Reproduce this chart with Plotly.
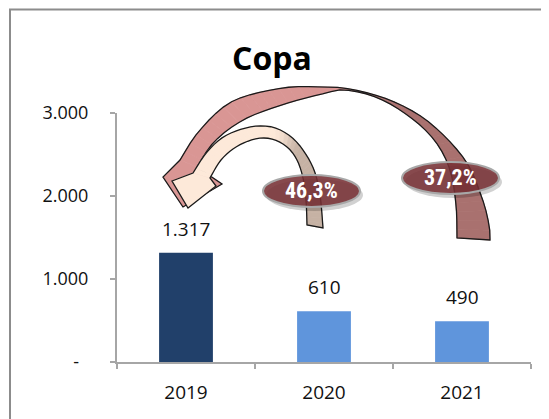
import numpy as np
import plotly.graph_objects as go

# ---------------- data ----------------
years = ["2019", "2020", "2021"]
values = [1317, 610, 490]
value_labels = ["1.317", "610", "490"]
bar_colors = ["#21406A", "#5F95DC", "#5F95DC"]
changes = ["46,3%", "37,2%"]
y_tickvals = [0, 1000, 2000, 3000]
y_ticktext = ["-\u00a0\u00a0", "1.000", "2.000", "3.000"]
title_text = "Copa"

# ---------------- geometry helpers (reference pixel -> paper) ----------------
OFF = 8                     # page body margin of the html page
W, H = 549 - OFF, 419 - OFF
L, T = 117 - OFF, 113 - OFF
PW, PH = 414, 249
R = W - L - PW
B = H - T - PH


def px(x):
    return (x - OFF - L) / PW


def py(y):
    return (T + PH - (y - OFF)) / PH


def catmull(pts, n=14):
    pts = np.asarray(pts, float)
    P = np.vstack([pts[0], pts, pts[-1]])
    out = []
    for i in range(1, len(P) - 2):
        p0, p1, p2, p3 = P[i - 1], P[i], P[i + 1], P[i + 2]
        for t in np.linspace(0, 1, n, endpoint=False):
            t2, t3 = t * t, t * t * t
            out.append(0.5 * ((2 * p1) + (-p0 + p2) * t
                              + (2 * p0 - 5 * p1 + 4 * p2 - p3) * t2
                              + (-p0 + 3 * p1 - 3 * p2 + p3) * t3))
    out.append(P[-2])
    return np.array(out)


def resample(curve, n):
    d = np.r_[0, np.cumsum(np.hypot(*np.diff(curve, axis=0).T))]
    s = np.linspace(0, d[-1], n)
    return np.c_[np.interp(s, d, curve[:, 0]), np.interp(s, d, curve[:, 1])]


def path_of(points, close=True):
    s = "M " + " L ".join(f"{px(x):.5f},{py(y):.5f}" for x, y in points)
    return s + (" Z" if close else "")


def hex2rgb(h):
    h = h.lstrip("#")
    return np.array([int(h[i:i + 2], 16) for i in (0, 2, 4)], float)


def lerp_color(c1, c2, f):
    c = hex2rgb(c1) * (1 - f) + hex2rgb(c2) * f
    return "rgb(%d,%d,%d)" % tuple(np.round(c))


def ribbon_shapes(outer, inner, head, c_left, c_right, f0, f1, n=44):
    o = resample(catmull(outer), n)
    i_ = resample(catmull(inner), n)
    shapes = []
    shapes.append(dict(type="path", xref="paper", yref="paper",
                       path=path_of(head), fillcolor=c_left,
                       line=dict(color=c_left, width=0.5), layer="above"))
    for k in range(n - 1):
        f = k / (n - 2)
        g = np.clip((f - f0) / (f1 - f0), 0, 1)
        g = g * g * (3 - 2 * g)
        col = lerp_color(c_left, c_right, g)
        quad = [o[k], o[k + 1], i_[k + 1], i_[k]]
        shapes.append(dict(type="path", xref="paper", yref="paper",
                           path=path_of(quad), fillcolor=col,
                           line=dict(color=col, width=0.8), layer="above"))
    outline = list(o[::-1]) + list(head[1:4]) + list(i_)
    shapes.append(dict(type="path", xref="paper", yref="paper",
                       path=path_of(outline), fillcolor="rgba(0,0,0,0)",
                       line=dict(color="#1a1a1a", width=1.3), layer="above"))
    return shapes


# decorative arrows (reference pixel-space outlines)
big_outer = [(180, 160), (200, 130), (233, 101), (283, 88), (320, 87), (350, 89),
             (392, 101), (430, 123), (465, 160), (482, 198), (489, 225), (490, 240)]
big_inner = [(197, 167), (215, 141), (245, 119), (285, 104), (322, 94), (345, 90),
             (378, 98), (410, 117), (435, 141), (450, 170), (456, 205), (457, 238)]
big_head = [(180, 160), (163, 177), (183, 207), (222, 184), (197, 167)]

small_outer = [(193, 173), (207, 152), (225, 136), (250, 127), (272, 127), (290, 136),
               (303, 150), (314, 170), (320, 195), (323, 228)]
small_inner = [(210, 178), (221, 160), (236, 147), (255, 139), (272, 139), (287, 147),
               (297, 160), (303, 178), (306, 200), (307, 225)]
small_head = [(193, 173), (172, 181), (188, 208), (216, 186), (210, 178)]

shapes = []
shapes.append(dict(type="path", xref="paper", yref="paper",
                   path=path_of([(10, 430), (10, 9.5), (560, 9.5)], close=False),
                   line=dict(color="#8C8C8C", width=2), layer="above"))
shapes += ribbon_shapes(big_outer, big_inner, big_head, "#D99694", "#A9716F", 0.42, 0.62)
shapes += ribbon_shapes(small_outer, small_inner, small_head, "#FDE9D9", "#C6B2A4", 0.45, 0.62)

ellipses = [(263, 175, 360, 207), (402, 162, 499, 194)]
for (x0, y0, x1, y1) in ellipses:
    shapes.append(dict(type="circle", xref="paper", yref="paper",
                       x0=px(x0 + 3), x1=px(x1 + 3), y0=py(y1 + 4), y1=py(y0 + 4),
                       fillcolor="rgba(0,0,0,0.18)", line=dict(width=0), layer="above"))
    shapes.append(dict(type="circle", xref="paper", yref="paper",
                       x0=px(x0), x1=px(x1), y0=py(y1), y1=py(y0),
                       fillcolor="rgba(118,48,52,0.88)",
                       line=dict(color="#A8A8A8", width=2), layer="above"))

annotations = []
for (x0, y0, x1, y1), txt in zip(ellipses, changes):
    annotations.append(dict(xref="paper", yref="paper", x=px((x0 + x1) / 2),
                            y=py((y0 + y1) / 2 - 1), text=f"<b>{txt}</b>", showarrow=False,
                            font=dict(family="Liberation Sans Narrow, Roboto Condensed, Liberation Sans",
                                      size=22, color="white"),
                            xanchor="center", yanchor="middle"))

for idx, (v, lab) in enumerate(zip(values, value_labels)):
    annotations.append(dict(x=idx, y=v, xref="x", yref="y", text=lab, showarrow=False,
                            yshift=24, font=dict(family="Open Sans", size=19, color="#111"),
                            xanchor="center", yanchor="middle"))

annotations.append(dict(xref="paper", yref="paper", x=px(272), y=py(57),
                        text=f"<b>{title_text}</b>", showarrow=False,
                        font=dict(family="Open Sans", size=32, color="black"),
                        xanchor="center", yanchor="middle"))

fig = go.Figure(go.Bar(x=years, y=values, marker=dict(color=bar_colors, line=dict(width=0)),
                       width=0.39, hoverinfo="skip"))

axis_col = "#A6A6A6"
fig.update_layout(
    width=W, height=H,
    margin=dict(l=L, r=R, t=T, b=B, autoexpand=False),
    paper_bgcolor="white", plot_bgcolor="white",
    showlegend=False,
    shapes=shapes, annotations=annotations,
    xaxis=dict(type="category", range=[-0.5, 2.5], showline=True, linecolor=axis_col,
               linewidth=2, ticks="outside", ticklen=5, tickwidth=1.5, tickcolor=axis_col,
               tickson="boundaries", showgrid=False, zeroline=False,
               tickfont=dict(family="Open Sans", size=19, color="#111"),
               ticklabelstandoff=12),
    yaxis=dict(range=[0, 3000], tickvals=y_tickvals, ticktext=y_ticktext, showline=True,
               linecolor=axis_col, linewidth=2, ticks="outside", ticklen=5, tickwidth=1.5,
               tickcolor=axis_col, showgrid=False, zeroline=False,
               tickfont=dict(family="Open Sans", size=18, color="#111"),
               ticklabelstandoff=18),
)

fig.write_html("out.html")
